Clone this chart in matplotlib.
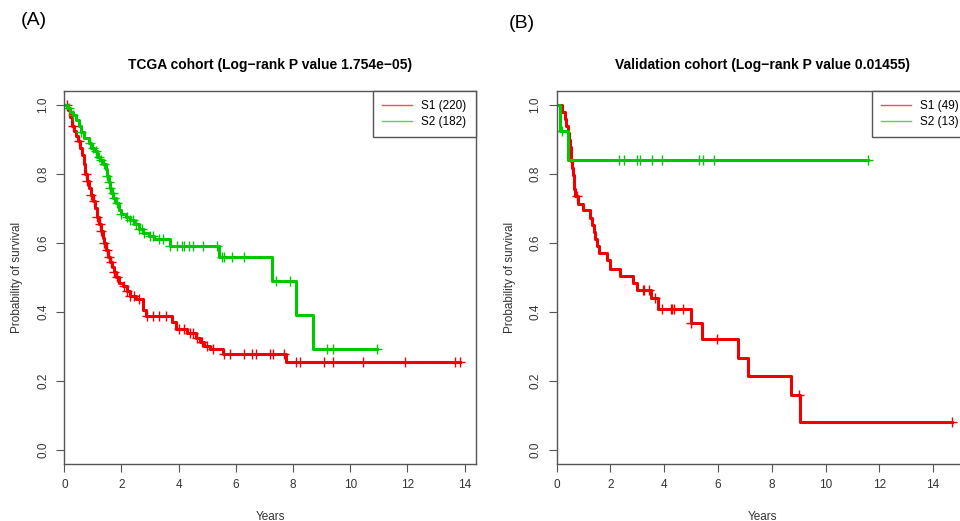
import numpy as np
import matplotlib
matplotlib.use("Agg")
import matplotlib.pyplot as plt

plt.rcParams["font.family"] = ["Liberation Sans", "DejaVu Sans"]

# TCGA cohort (panel A)
a_s1_times = [0, 0.12, 0.2, 0.26, 0.33, 0.4, 0.48, 0.55, 0.62, 0.68, 0.74, 0.8, 0.88, 0.95, 1.02, 1.08,
              1.14, 1.2, 1.27, 1.34, 1.4, 1.47, 1.54, 1.6, 1.67, 1.74, 1.82, 1.92, 2.05, 2.2, 2.3, 2.5,
              2.75, 2.85, 3.75, 3.9, 4.3, 4.6, 4.75, 4.9, 5.1, 5.55, 7.75]
a_s1_surv = [1.0, 0.985, 0.965, 0.94, 0.925, 0.91, 0.895, 0.875, 0.855, 0.83, 0.8, 0.78, 0.76, 0.74, 0.72, 0.7,
             0.675, 0.655, 0.635, 0.615, 0.6, 0.58, 0.56, 0.545, 0.53, 0.515, 0.5, 0.485, 0.475, 0.46, 0.447, 0.437,
             0.405, 0.388, 0.372, 0.352, 0.34, 0.325, 0.312, 0.302, 0.293, 0.279, 0.254]
a_s1_end = 13.85
a_s1_cens = [0.1, 0.3, 0.5, 0.75, 0.8, 0.95, 1.05, 1.15, 1.25, 1.3, 1.4, 1.5, 1.55, 1.65, 1.75, 1.85, 2.1, 2.2,
             2.3, 2.45, 2.6, 2.9, 3.1, 3.3, 3.55, 4.0, 4.2, 4.4, 4.5, 4.65, 4.8, 5.0, 5.2, 5.6, 5.8, 6.3, 6.55,
             6.7, 7.2, 7.3, 7.7, 8.1, 8.25, 9.1, 9.4, 10.45, 11.9, 13.65, 13.85]

a_s2_times = [0, 0.1, 0.2, 0.3, 0.4, 0.5, 0.6, 0.7, 0.85, 0.95, 1.05, 1.15, 1.25, 1.35, 1.45, 1.5, 1.55, 1.6,
              1.65, 1.72, 1.8, 1.9, 2.0, 2.15, 2.3, 2.45, 2.6, 2.75, 2.95, 3.15, 3.7, 5.4, 7.25, 8.1, 8.7]
a_s2_surv = [1.0, 0.99, 0.98, 0.97, 0.955, 0.94, 0.92, 0.905, 0.89, 0.875, 0.865, 0.85, 0.84, 0.83, 0.815, 0.795,
             0.775, 0.76, 0.745, 0.73, 0.715, 0.695, 0.685, 0.675, 0.665, 0.655, 0.64, 0.63, 0.62, 0.61, 0.59,
             0.56, 0.49, 0.39, 0.293]
a_s2_end = 10.95
a_s2_cens = [0.15, 0.3, 0.6, 0.9, 1.0, 1.1, 1.2, 1.3, 1.4, 1.5, 1.55, 1.6, 1.7, 1.75, 1.85, 2.0, 2.2, 2.3, 2.4,
             2.5, 2.6, 2.7, 2.8, 3.0, 3.1, 3.3, 3.45, 3.7, 3.95, 4.1, 4.2, 4.35, 4.5, 4.85, 5.35, 5.5, 5.6,
             5.85, 6.3, 7.4, 7.9, 9.2, 9.4, 10.95]

# Validation cohort (panel B)
b_s1_times = [0, 0.19, 0.31, 0.36, 0.41, 0.45, 0.48, 0.52, 0.55, 0.58, 0.61, 0.63, 0.65, 0.68, 0.78, 0.99,
              1.24, 1.31, 1.39, 1.44, 1.5, 1.56, 1.88, 1.98, 2.35, 2.83, 2.97, 3.51, 3.78, 4.99, 5.39, 6.75,
              7.1, 8.71, 9.05]
b_s1_surv = [1.0, 0.98, 0.959, 0.939, 0.918, 0.898, 0.878, 0.857, 0.837, 0.816, 0.796, 0.776, 0.755, 0.735,
             0.714, 0.694, 0.673, 0.653, 0.633, 0.612, 0.592, 0.571, 0.551, 0.526, 0.505, 0.484, 0.463, 0.44,
             0.41, 0.368, 0.322, 0.268, 0.215, 0.161, 0.081]
b_s1_end = 14.72
b_s1_cens = [0.77, 3.2, 3.25, 3.45, 3.65, 3.9, 4.25, 4.3, 4.35, 4.7, 5.0, 5.95, 9.0, 14.72]

b_s2_times = [0, 0.12, 0.41]
b_s2_surv = [1.0, 0.923, 0.839]
b_s2_end = 11.56
b_s2_cens = [0.2, 2.3, 2.5, 2.97, 3.1, 3.55, 3.9, 5.3, 5.45, 5.85, 11.56]

RED = "#f00000"
GREEN = "#00c800"
AXC = "#555555"


def km(ax, times, surv, end, cens, color, label):
    x = list(times) + [end]
    y = list(surv) + [surv[-1]]
    ax.step(x, y, where="post", color=color, lw=2.2)
    # censor marks sit on the curve at their time
    idx = np.searchsorted(times, cens, side="right") - 1
    cy = np.array(surv)[idx]
    ax.plot(cens, cy, ls="none", marker="+", ms=7, mew=1.0, color=color)
    ax.plot([], [], color=color, lw=1, alpha=0.7, label=label)


def style(ax, xmax, title):
    ax.set_xlim(0, xmax)
    ax.set_ylim(-0.04, 1.04)
    ax.set_xticks(np.arange(0, 15, 2))
    ax.set_yticks([0.0, 0.2, 0.4, 0.6, 0.8, 1.0])
    ax.set_yticklabels(["0.0", "0.2", "0.4", "0.6", "0.8", "1.0"], rotation=90, va="center")
    for sp in ax.spines.values():
        sp.set_color(AXC)
        sp.set_linewidth(1.0)
    ax.tick_params(direction="out", length=6, color=AXC, labelcolor="#333333", labelsize=8.5, pad=5)
    ax.set_xlabel("Years", fontsize=8.5, color="#333333", labelpad=14)
    ax.set_ylabel("Probability of survival", fontsize=8.5, color="#333333", labelpad=10)
    ax.set_title(title, fontsize=10, fontweight="bold", pad=16)
    leg = ax.legend(loc="upper right", borderaxespad=0, fancybox=False, fontsize=8.5,
                    handlelength=2.5, borderpad=0.8, labelspacing=0.3, framealpha=1)
    leg.get_frame().set_edgecolor(AXC)
    leg.get_frame().set_linewidth(1.0)


fig = plt.figure(figsize=(9.6, 5.21), dpi=100)
ax1 = fig.add_axes([0.067, 0.1094, 0.4288, 0.716])
ax2 = fig.add_axes([0.5799, 0.1094, 0.4288, 0.716])

km(ax1, a_s1_times, a_s1_surv, a_s1_end, a_s1_cens, RED, "S1 (220)")
km(ax1, a_s2_times, a_s2_surv, a_s2_end, a_s2_cens, GREEN, "S2 (182)")
style(ax1, 14.4, "TCGA cohort (Log\u2212rank P value 1.754e\u221205)")

km(ax2, b_s1_times, b_s1_surv, b_s1_end, b_s1_cens, RED, "S1 (49)")
km(ax2, b_s2_times, b_s2_surv, b_s2_end, b_s2_cens, GREEN, "S2 (13)")
style(ax2, 15.31, "Validation cohort (Log\u2212rank P value 0.01455)")

fig.text(0.022, 0.96, "(A)", fontsize=14, va="center", ha="left")
fig.text(0.53, 0.955, "(B)", fontsize=14, va="center", ha="left")

fig.savefig("out.png", dpi=100)
